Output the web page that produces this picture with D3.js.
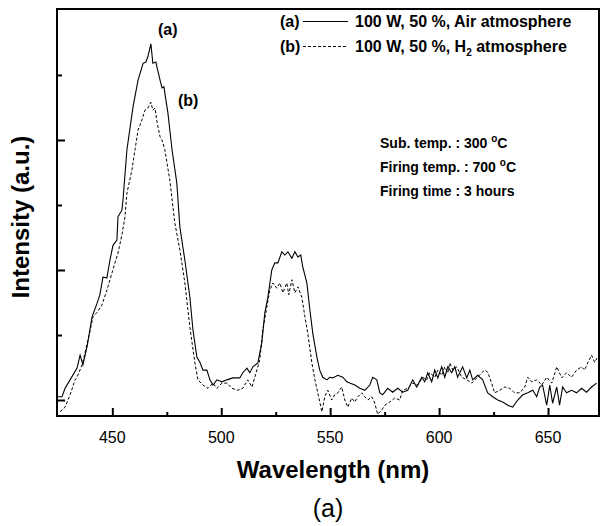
<!DOCTYPE html>
<html>
<head>
<meta charset="utf-8">
<script src="https://cdn.jsdelivr.net/npm/d3@7"></script>
<style>
  body { margin: 0; background: #fff; }
  text { font-family: "Liberation Sans", Arial, sans-serif; fill: #000; }
  .tick-label { font-size: 16px; }
  .axis-title { font-size: 24px; font-weight: bold; }
  .note { font-size: 14px; font-weight: bold; }
  .legend-text { font-size: 16px; font-weight: bold; }
</style>
</head>
<body>
<svg id="chart"></svg>
<script>
// Curve (a): 100 W, 50 %, Air atmosphere
const wavelengthA = [424.6, 426.9, 428.3, 430.6, 433.8, 435.2, 436.5, 438.4, 440.7, 443.0, 444.3, 445.7, 447.5, 448.9,
  450.3, 452.1, 452.6, 454.4, 454.9, 456.7, 459.5, 461.8, 463.6, 464.1, 465.4, 466.3, 467.7, 468.6, 470.0, 470.5,
  471.9, 472.8, 473.7, 474.1, 475.5, 477.4, 479.6, 481.0, 483.3, 485.6, 487.0, 488.8, 490.2, 491.6, 493.4, 494.8,
  496.2, 498.0, 500.3, 502.6, 505.3, 508.5, 509.9, 511.8, 513.1, 514.5, 516.8, 518.6, 520.0, 521.4, 523.2, 524.6,
  526.0, 527.8, 529.2, 530.6, 532.4, 533.8, 535.2, 536.5, 537.4, 539.3, 540.7, 542.0, 543.9, 545.2, 546.6, 548.5,
  549.8, 551.2, 553.5, 555.8, 557.6, 559.0, 561.3, 563.6, 565.9, 568.2, 569.5, 571.4, 572.8, 574.1, 576.4, 578.7,
  581.0, 583.3, 585.6, 587.9, 589.7, 592.0, 593.4, 594.8, 596.6, 598.0, 599.4, 601.2, 602.6, 604.0, 605.8, 607.2,
  608.5, 610.8, 612.7, 614.1, 615.4, 617.7, 620.0, 622.3, 624.6, 626.9, 629.2, 631.5, 633.8, 636.1, 638.4, 640.7,
  643.0, 644.8, 646.2, 647.5, 649.4, 650.8, 652.1, 654.0, 655.3, 656.7, 658.5, 660.8, 663.1, 665.4, 667.7, 670.0, 672.3];
const intensityA = [0.5, 0.5, 1.8, 3.1, 4.9, 6.9, 5.4, 8.2, 12.8, 14.9, 16.2, 18.9, 18.8, 21.5,
  23.8, 24.6, 28.2, 29.2, 30.8, 38.5, 45.1, 49.2, 51.2, 51.8, 52.0, 52.8, 54.8, 51.8, 52.0, 51.2,
  49.2, 48.0, 48.2, 47.2, 44.2, 38.5, 33.4, 26.6, 21.5, 15.8, 10.8, 6.6, 5.8, 4.6, 4.6, 3.1,
  2.3, 3.1, 2.8, 3.1, 3.4, 3.4, 4.2, 4.9, 4.2, 5.1, 5.7, 8.8, 13.4, 15.8, 20.0, 21.1,
  21.1, 22.8, 22.3, 22.8, 21.8, 22.8, 22.0, 22.3, 20.5, 18.0, 13.8, 10.3, 6.6, 4.6, 3.5, 3.1,
  3.5, 3.4, 3.8, 3.5, 2.8, 2.6, 2.3, 1.8, 1.5, 2.3, 3.5, 3.1, 1.1, 0.8, 1.8, 1.2,
  1.8, 1.2, 1.5, 3.1, 2.0, 3.5, 2.8, 4.2, 2.8, 4.6, 3.4, 5.1, 3.5, 5.1, 4.2, 5.1,
  3.5, 5.1, 3.4, 4.6, 3.1, 3.8, 3.1, 1.1, 0.5, 0.0, -0.3, -0.8, -1.1, 0.0, 0.8, 1.1,
  1.5, 0.5, 2.0, 2.3, -0.8, 2.3, -0.5, 2.0, -0.8, 2.0, 1.1, 1.5, 1.1, 1.8, 1.2, 2.0, 2.6];

// Curve (b): 100 W, 50 %, H2 atmosphere
const wavelengthB = [426.0, 428.3, 430.6, 432.9, 433.8, 436.1, 437.4, 439.7, 441.1, 443.0, 445.2, 447.5, 449.8, 451.2,
  452.6, 454.4, 455.8, 456.7, 459.0, 460.4, 461.8, 463.6, 465.0, 466.3, 467.7, 468.6, 469.6, 470.5, 471.9, 472.8,
  474.1, 476.4, 478.7, 481.0, 483.3, 485.6, 487.9, 489.3, 491.6, 493.9, 496.2, 498.0, 500.3, 502.6, 504.9, 507.6,
  509.9, 512.2, 514.1, 515.4, 517.7, 519.1, 520.9, 522.3, 523.7, 525.5, 526.9, 528.3, 530.1, 531.0, 532.4, 533.8,
  535.2, 537.0, 538.4, 539.7, 541.6, 543.0, 544.3, 546.2, 547.5, 548.9, 550.7, 552.1, 553.5, 555.3, 556.7, 558.1,
  559.9, 561.3, 562.7, 564.5, 565.9, 567.3, 569.1, 570.5, 571.8, 573.7, 575.1, 577.4, 579.6, 581.9, 583.3, 585.6,
  587.9, 590.2, 592.5, 594.3, 595.7, 598.0, 599.4, 601.2, 602.6, 604.0, 604.9, 606.3, 608.1, 610.4, 612.7, 615.0,
  617.3, 619.6, 620.9, 622.3, 624.1, 625.5, 627.8, 630.1, 632.4, 634.7, 637.0, 639.3, 640.7, 642.5, 644.8, 647.1,
  649.4, 651.7, 654.0, 656.3, 658.5, 660.8, 663.1, 665.4, 666.8, 668.2, 670.0, 671.4, 672.8];
const intensityB = [-1.8, -1.1, 0.8, 3.1, 3.5, 5.4, 7.2, 10.5, 12.8, 13.5, 14.6, 16.9, 19.5, 21.1,
  22.6, 25.4, 28.2, 31.8, 35.4, 38.5, 41.5, 43.1, 44.6, 44.9, 45.8, 44.6, 44.9, 42.8, 40.5, 40.0,
  38.5, 33.8, 27.2, 23.1, 18.0, 11.2, 5.7, 3.1, 2.3, 1.8, 2.6, 1.8, 2.6, 2.6, 1.8, 1.5,
  1.8, 3.1, 2.0, 3.5, 6.2, 10.8, 14.3, 16.9, 18.0, 17.2, 18.0, 16.5, 18.0, 16.2, 18.5, 16.5,
  17.4, 15.8, 12.8, 10.3, 5.7, 3.1, 1.1, -1.8, 0.5, 1.5, 0.0, 0.8, 1.1, 2.0, 0.0, -1.1,
  0.3, -0.3, 0.5, 1.1, 0.5, 0.0, 0.5, -0.5, -2.2, -1.5, -0.8, -0.3, 0.3, 0.0, 1.5, 1.8,
  2.6, 2.3, 3.5, 3.1, 4.2, 3.5, 4.6, 3.8, 5.1, 4.2, 5.7, 4.6, 5.1, 3.5, 3.1, 2.6,
  3.4, 4.2, 4.6, 4.3, 2.6, 1.1, 1.5, 2.0, 1.8, 1.1, 1.1, 2.0, 3.5, 2.8, 3.1, 2.3,
  3.5, 2.6, 5.1, 3.4, 4.2, 3.5, 4.6, 5.1, 4.6, 5.7, 6.9, 5.8, 6.6];

const xMajorTicks = [450, 500, 550, 600, 650];
const xMinorTicks = [475, 525, 575, 625];
const yMajorTicks = [0, 20, 40];
const yMinorTicks = [10, 30, 50];

const legendLabels = ['100 W, 50 %, Air atmosphere', '100 W, 50 %, H|2| atmosphere'];
const noteLines = ['Sub. temp. : 300 |o|C', 'Firing temp. : 700 |o|C', 'Firing time : 3 hours'];

class SpectrumChart {

  constructor(_config) {
    this.config = {
      parentElement: _config.parentElement,
      containerWidth: _config.containerWidth || 604,
      containerHeight: _config.containerHeight || 526,
      margin: _config.margin || {top: 9, right: 5, bottom: 110, left: 57}
    }
    this.initVis();
  }

  initVis() {
    let vis = this;

    vis.width = vis.config.containerWidth - vis.config.margin.left - vis.config.margin.right;
    vis.height = vis.config.containerHeight - vis.config.margin.top - vis.config.margin.bottom;

    vis.xScale = d3.scaleLinear()
        .domain([424.6, 673.4])
        .range([0, vis.width]);

    vis.yScale = d3.scaleLinear()
        .domain([-2.46, 60.15])
        .range([vis.height, 0]);

    vis.svg = d3.select(vis.config.parentElement)
        .attr('width', vis.config.containerWidth)
        .attr('height', vis.config.containerHeight);

    vis.chart = vis.svg.append('g')
        .attr('transform', `translate(${vis.config.margin.left},${vis.config.margin.top})`);

    vis.chart.append('clipPath')
        .attr('id', 'plot-clip')
      .append('rect')
        .attr('width', vis.width)
        .attr('height', vis.height);

    // ticks point inward, no labels on y
    const xMajor = d3.axisTop(vis.xScale).tickValues(xMajorTicks).tickSize(8).tickFormat('');
    const xMinor = d3.axisTop(vis.xScale).tickValues(xMinorTicks).tickSize(4).tickFormat('');
    const yMajor = d3.axisRight(vis.yScale).tickValues(yMajorTicks).tickSize(8).tickFormat('');
    const yMinor = d3.axisRight(vis.yScale).tickValues(yMinorTicks).tickSize(5).tickFormat('');

    [xMajor, xMinor].forEach(ax => {
      vis.chart.append('g')
          .attr('transform', `translate(0,${vis.height})`)
          .call(ax)
          .call(g => g.select('.domain').remove())
          .call(g => g.selectAll('line').attr('stroke', '#000').attr('stroke-width', 2));
    });
    [yMajor, yMinor].forEach(ax => {
      vis.chart.append('g')
          .call(ax)
          .call(g => g.select('.domain').remove())
          .call(g => g.selectAll('line').attr('stroke', '#000').attr('stroke-width', 2));
    });

    vis.chart.append('g')
        .selectAll('text')
        .data(xMajorTicks)
      .join('text')
        .attr('class', 'tick-label')
        .attr('x', d => vis.xScale(d))
        .attr('y', vis.height + 27)
        .attr('text-anchor', 'middle')
        .text(d => d);

    vis.svg.append('text')
        .attr('class', 'axis-title')
        .attr('x', 333)
        .attr('y', 478)
        .attr('text-anchor', 'middle')
        .text('Wavelength (nm)');

    vis.svg.append('text')
        .attr('class', 'axis-title')
        .attr('transform', 'translate(29,217) rotate(-90)')
        .attr('text-anchor', 'middle')
        .text('Intensity (a.u.)');

    vis.svg.append('text')
        .attr('x', 328)
        .attr('y', 517)
        .attr('text-anchor', 'middle')
        .style('font-size', '25px')
        .text('(a)');
  }

  updateVis() {
    let vis = this;
    vis.seriesA = wavelengthA.map((w, i) => ({w: w, v: intensityA[i]}));
    vis.seriesB = wavelengthB.map((w, i) => ({w: w, v: intensityB[i]}));
    vis.line = d3.line()
        .x(d => vis.xScale(d.w))
        .y(d => vis.yScale(d.v));
    vis.renderVis();
  }

  renderVis() {
    let vis = this;

    vis.chart.append('path')
        .datum(vis.seriesB)
        .attr('clip-path', 'url(#plot-clip)')
        .attr('fill', 'none')
        .attr('stroke', '#000')
        .attr('stroke-width', 1)
        .attr('stroke-dasharray', '3,2')
        .attr('d', vis.line);

    vis.chart.append('path')
        .datum(vis.seriesA)
        .attr('clip-path', 'url(#plot-clip)')
        .attr('fill', 'none')
        .attr('stroke', '#000')
        .attr('stroke-width', 1.1)
        .attr('d', vis.line);

    // frame
    vis.chart.append('rect')
        .attr('width', vis.width)
        .attr('height', vis.height)
        .attr('fill', 'none')
        .attr('stroke', '#000')
        .attr('stroke-width', 2);

    // peak labels
    vis.svg.append('text').attr('class', 'legend-text').attr('x', 158).attr('y', 35).text('(a)');
    vis.svg.append('text').attr('class', 'legend-text').attr('x', 178).attr('y', 106).text('(b)');

    // legend
    const legendRows = [{tag: '(a)', y: 27, dash: null}, {tag: '(b)', y: 52, dash: '3,2'}];
    legendRows.forEach((r, i) => {
      vis.svg.append('text').attr('class', 'legend-text').attr('x', 280).attr('y', r.y).text(r.tag);
      vis.svg.append('line')
          .attr('x1', 303).attr('x2', 348)
          .attr('y1', r.y - 5.5).attr('y2', r.y - 5.5)
          .attr('stroke', '#000')
          .attr('stroke-width', 1)
          .attr('stroke-dasharray', r.dash);
      vis.addRich(vis.svg.append('text').attr('class', 'legend-text').attr('x', 355).attr('y', r.y), legendLabels[i], 'sub');
    });

    // conditions note
    noteLines.forEach((s, i) => {
      vis.addRich(vis.svg.append('text').attr('class', 'note').attr('x', 380).attr('y', 148 + i * 24), s, 'sup');
    });
  }

  // text with |x| marking a sub/superscript part
  addRich(sel, str, mode) {
    str.split('|').forEach((part, j) => {
      if (j % 2 === 0) {
        sel.append('tspan').attr('dy', j === 0 ? 0 : (mode === 'sub' ? -4 : 6)).text(part);
      } else {
        sel.append('tspan')
            .attr('dy', mode === 'sub' ? 4 : -6)
            .style('font-size', '10px')
            .text(part);
      }
    });
  }
}

const chart = new SpectrumChart({parentElement: '#chart'});
chart.updateVis();
</script>
</body>
</html>
